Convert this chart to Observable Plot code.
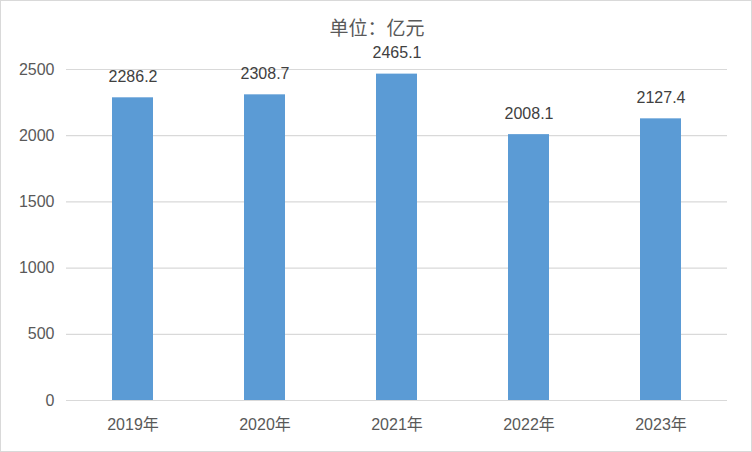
<!DOCTYPE html>
<html><head><meta charset="utf-8">
<script src="https://cdn.jsdelivr.net/npm/d3@7"></script>
<script src="https://cdn.jsdelivr.net/npm/@observablehq/plot@0.6"></script>
<style>
html,body{margin:0;padding:0;background:#fff;}
#box{width:752px;height:452px;box-sizing:border-box;border:1px solid #d9d9d9;overflow:hidden;}
svg{display:block;}
</style></head>
<body><div id="box"></div>
<script>
const years = ["2019年","2020年","2021年","2022年","2023年"];
const values = [2286.2, 2308.7, 2465.1, 2008.1, 2127.4];
const yTicks = [0, 500, 1000, 1500, 2000, 2500];
const title = "单位：亿元";

const data = years.map((y, i) => ({year: y, value: values[i]}));
const font = "'Liberation Sans', 'Noto Sans CJK SC', sans-serif";

const chart = Plot.plot({
  width: 750, height: 450,
  marginLeft: 65, marginRight: 24, marginTop: 68, marginBottom: 51,
  style: {fontFamily: font, fontSize: "16px", color: "#595959", background: "#fff"},
  x: {domain: years, paddingInner: 0.69, paddingOuter: 0.345, label: null},
  y: {domain: [0, 2500], label: null},
  marks: [
    Plot.gridY(yTicks, {stroke: "#d9d9d9", strokeOpacity: 1, strokeWidth: 1.2}),
    Plot.axisY(yTicks, {tickSize: 0, tickPadding: 12, label: null, fontSize: 16, fill: "#595959", tickFormat: d => String(d)}),
    Plot.axisX({tickSize: 0, tickPadding: 18, label: null, fontSize: 16, fill: "#595959"}),
    Plot.barY(data, {x: "year", y: "value", fill: "#5b9bd5"}),
    Plot.text(data, {x: "year", y: "value", text: d => d.value.toFixed(1), dy: -21, fontSize: 16, fill: "#404040"}),
    Plot.text([title], {frameAnchor: "top", dx: -20, dy: -48, fontSize: 19, fill: "#595959", fontFamily: "'Noto Sans CJK SC', sans-serif"})
  ]
});
document.getElementById("box").appendChild(chart);
</script></body></html>
